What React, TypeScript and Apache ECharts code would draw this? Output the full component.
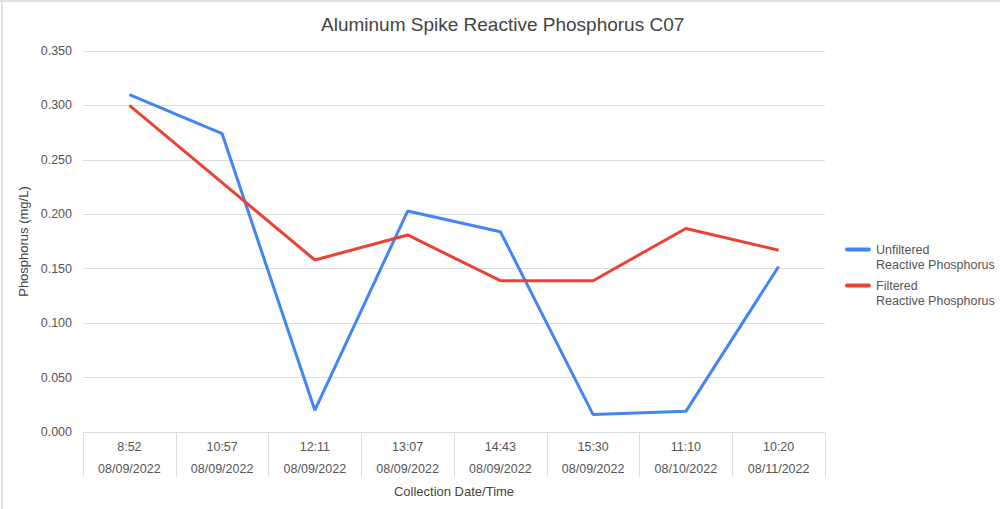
import React, { useEffect, useRef } from "react";
import * as echarts from "echarts";

const times = ["8:52", "10:57", "12:11", "13:07", "14:43", "15:30", "11:10", "10:20"];
const dates = ["08/09/2022", "08/09/2022", "08/09/2022", "08/09/2022", "08/09/2022", "08/09/2022", "08/10/2022", "08/11/2022"];
const unfiltered = [0.31, 0.274, 0.02, 0.203, 0.184, 0.016, 0.019, 0.152];
const filtered = [0.3, 0.229, 0.158, 0.181, 0.139, 0.139, 0.187, 0.167];
const yTicks = { min: 0, max: 0.35, interval: 0.05 };

const FONT = "'Liberation Sans', Arial, Helvetica, sans-serif";
const categories = times.map((t, i) => `${t}\n${dates[i]}`);
const nameU = "Unfiltered\nReactive Phosphorus";
const nameF = "Filtered\nReactive Phosphorus";

export default function App() {
  const ref = useRef<HTMLDivElement>(null);
  useEffect(() => {
    if (!ref.current) return;
    const chart = echarts.init(ref.current, undefined, { renderer: "svg" });
    const legendCommon = {
      orient: "vertical",
      left: 845,
      padding: 0,
      icon: "path://M2,0h22a2,2 0 0 1 0,4h-22a2,2 0 0 1 0,-4z M0,19h0.01v0.01h-0.01z",
      itemWidth: 26,
      itemHeight: 19,
      itemGap: 0,
      textStyle: {
        fontFamily: FONT,
        fontSize: 12.5,
        color: "#555",
        lineHeight: 15,
      },
    };
    chart.setOption({
      animation: false,
      backgroundColor: "#fff",
      title: {
        text: "Aluminum Spike Reactive Phosphorus C07",
        left: 316,
        top: 10,
        textStyle: { fontFamily: FONT, fontSize: 19, fontWeight: "normal", color: "#444" },
      },
      legend: [
        { ...legendCommon, top: 242, data: [nameU] },
        { ...legendCommon, top: 278, data: [nameF] },
      ],
      grid: { left: 83, right: 175, top: 51, bottom: 77, containLabel: false },
      xAxis: {
        type: "category",
        data: categories,
        boundaryGap: true,
        name: "Collection Date/Time",
        nameLocation: "middle",
        nameGap: 47,
        nameTextStyle: { fontFamily: FONT, fontSize: 13, color: "#444" },
        axisLine: { lineStyle: { color: "#ddd", width: 1 } },
        axisTick: { show: true, length: 45, lineStyle: { color: "#ddd", width: 1 } },
        axisLabel: {
          interval: 0,
          margin: 4,
          fontFamily: FONT,
          fontSize: 12.5,
          color: "#555",
          lineHeight: 22,
        },
      },
      yAxis: {
        type: "value",
        min: yTicks.min,
        max: yTicks.max,
        interval: yTicks.interval,
        name: "Phosphorus (mg/L)",
        nameLocation: "middle",
        nameGap: 47,
        nameTextStyle: { fontFamily: FONT, fontSize: 13, color: "#444" },
        axisLine: { show: false },
        axisTick: { show: false },
        axisLabel: {
          margin: 11,
          fontFamily: FONT,
          fontSize: 12.5,
          color: "#555",
          formatter: (v: number) => v.toFixed(3),
        },
        splitLine: { lineStyle: { color: "#ddd", width: 1 } },
      },
      series: [
        {
          name: nameU,
          type: "line",
          data: unfiltered,
          symbol: "none",
          color: "#4285F4",
          lineStyle: { width: 3, color: "#4285F4" },
        },
        {
          name: nameF,
          type: "line",
          data: filtered,
          symbol: "none",
          color: "#EA4335",
          lineStyle: { width: 3, color: "#EA4335" },
        },
      ],
    });
    return () => chart.dispose();
  }, []);
  return (
    <div style={{ position: "fixed", left: 0, top: 0, width: 1000, height: 509, background: "#fff" }}>
      <div ref={ref} style={{ position: "absolute", left: 0, top: 0, width: 1000, height: 509 }} />
      <div style={{ position: "absolute", left: 0, top: 0, width: 1000, height: 2, background: "#e2e2e2", pointerEvents: "none" }} />
      <div style={{ position: "absolute", left: 1, top: 0, width: 2, height: 509, background: "#e2e2e2", pointerEvents: "none" }} />
    </div>
  );
}
